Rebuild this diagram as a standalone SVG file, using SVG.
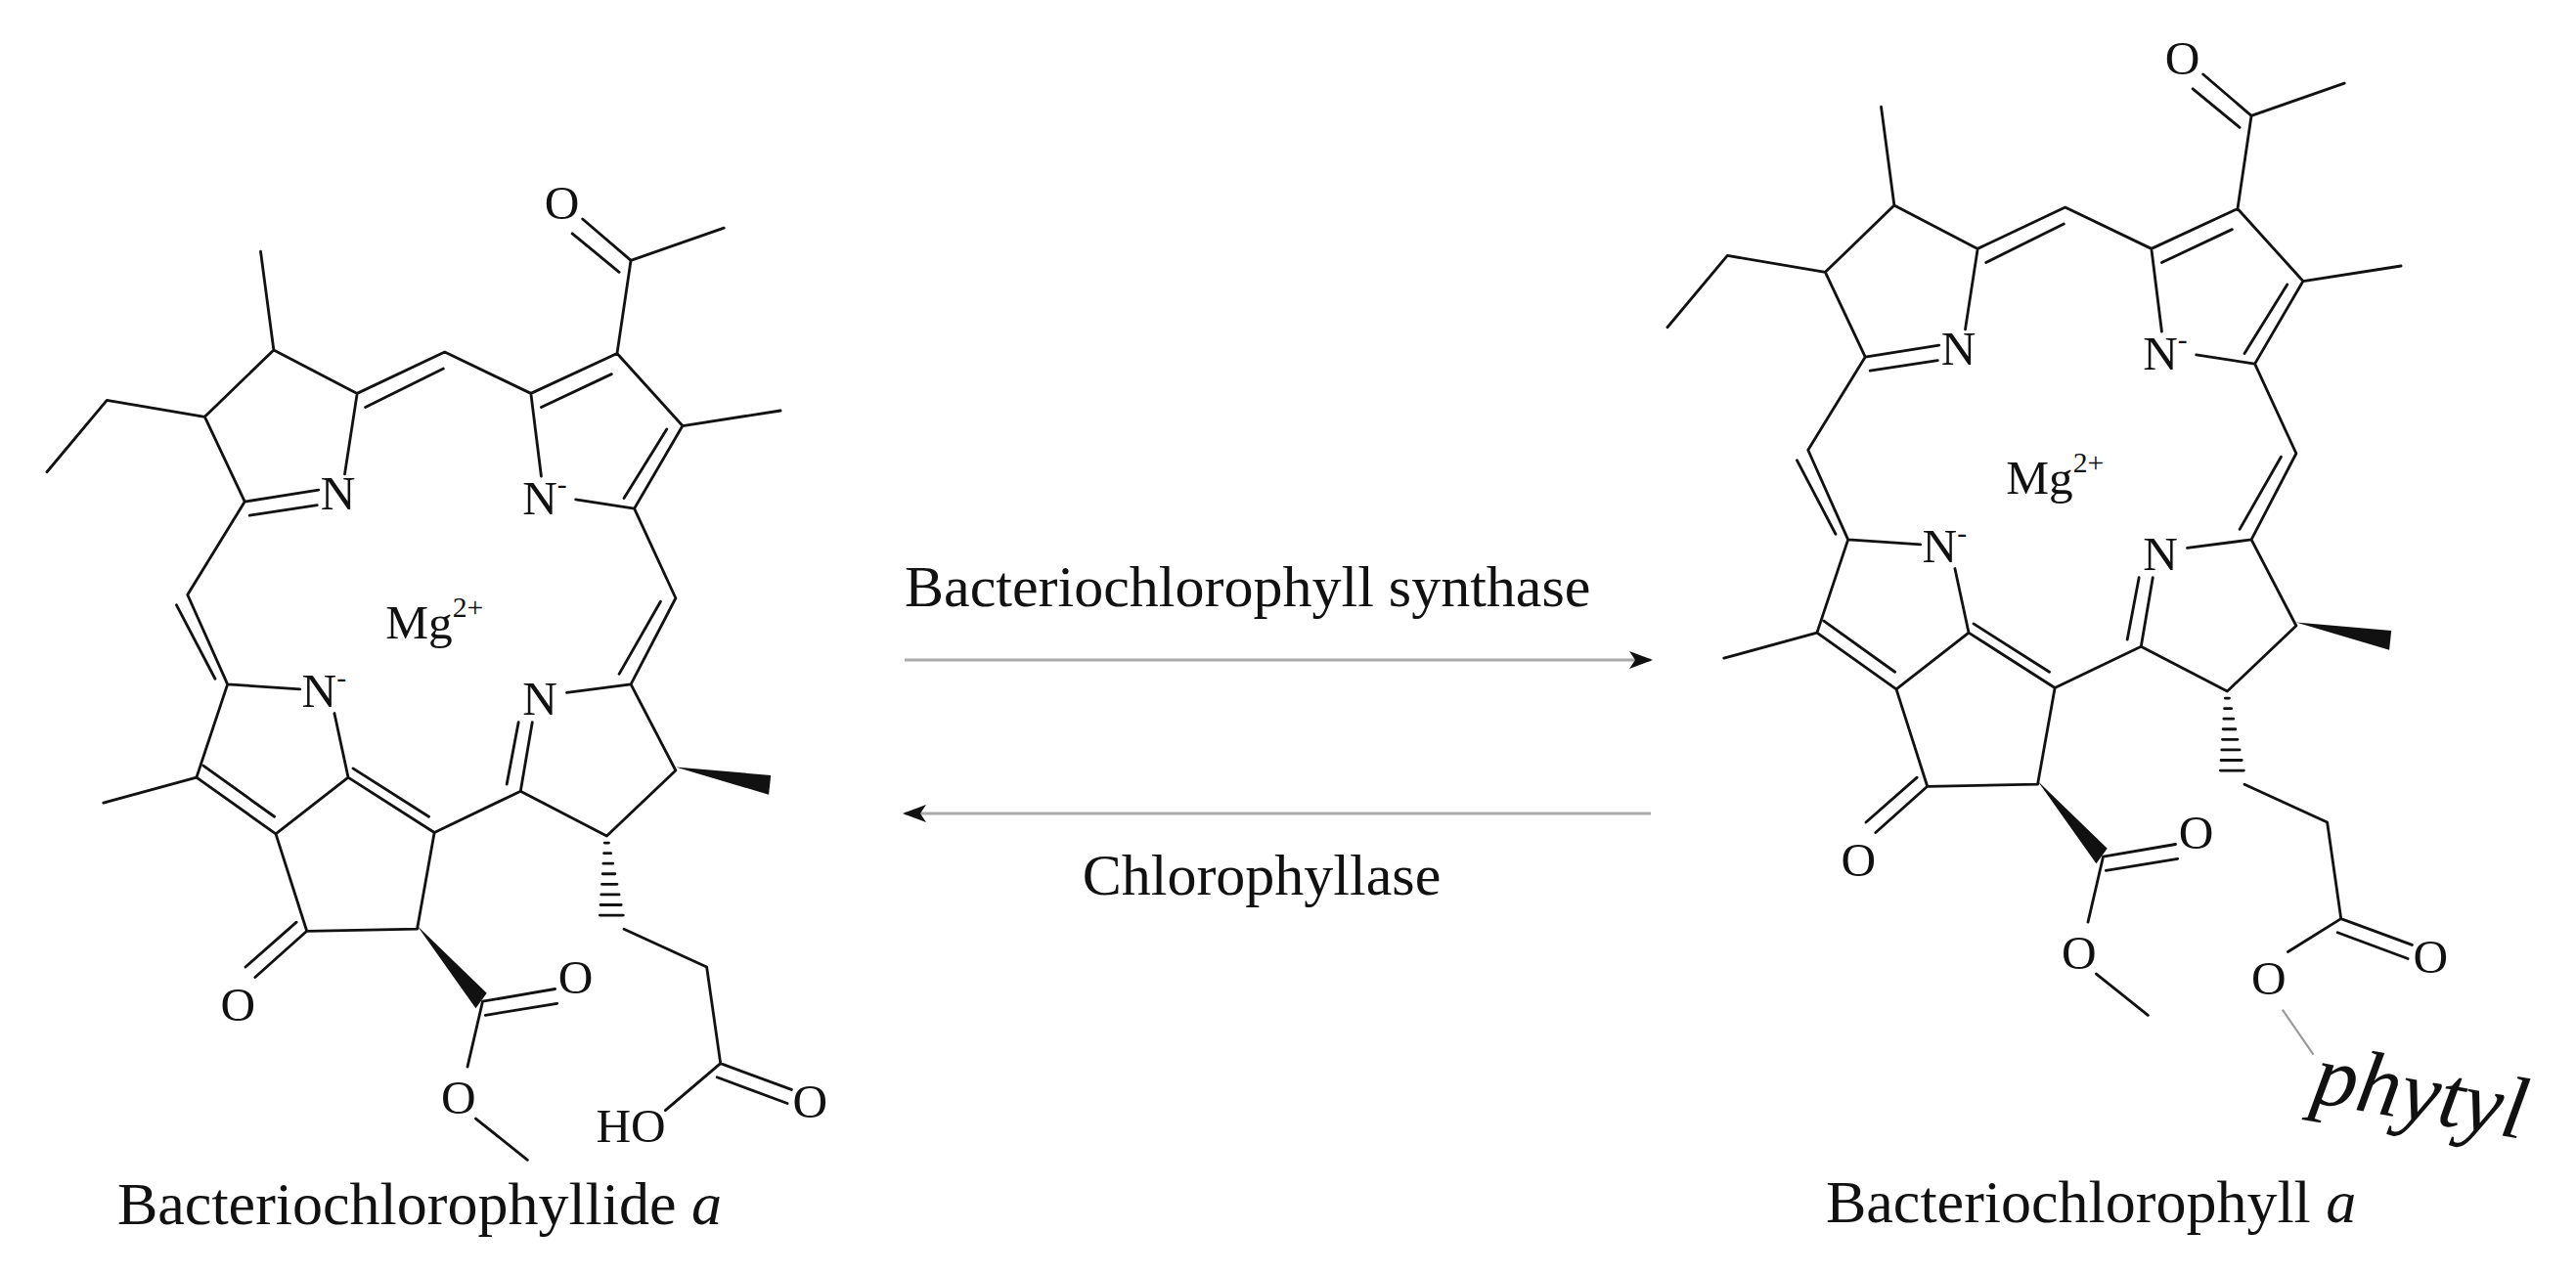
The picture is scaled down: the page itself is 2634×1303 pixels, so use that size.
<svg xmlns="http://www.w3.org/2000/svg" width="2634" height="1303" viewBox="0 0 2634 1303">
<style>
.b{stroke:#111;stroke-width:4;fill:none;stroke-linecap:round;stroke-linejoin:round}
.t{font-family:"Liberation Serif",serif;fill:#111}
.a{font-family:"Liberation Serif",serif;fill:#111;font-size:70px;text-anchor:middle;dominant-baseline:central}
.arr{stroke:#aaa;stroke-width:3}
</style>
<defs>
<marker id="h" viewBox="0 0 24 18" refX="22" refY="9" markerWidth="24" markerHeight="18" markerUnits="userSpaceOnUse" orient="auto"><path d="M0,0 L24,9 L0,18 L6,9 Z" fill="#111"/></marker>
<g id="core">
<path class="b" d="M397,295 L378,152 M397,295 L297,392 L155,368 L68,472 M297,392 L355,515 L462,498 M362,535 L460,520 M500,475 L518,358 L397,295 M518,358 L645,298 L770,358 M530,378 L643,322 M770,358 L895,300 M785,378 L887,330 M895,300 L915,165 L845,105 M898,182 L830,126 M915,165 L1050,118 M895,300 L990,405 L1132,383 M990,405 L920,525 M967,410 L905,510 M920,525 L835,512 M785,478 L770,358 M920,525 L980,655 L915,780 M958,660 L898,765 M915,780 L822,792 M915,780 L980,905 L880,1000 L755,935 L772,835 M735,925 L752,835 M755,935 L630,995 L505,915 M622,972 L512,902 M505,915 L485,822 M505,915 L400,997 L285,915 M398,972 L295,898 M285,915 L150,952 M285,915 L330,780 L272,650 L355,515 M312,772 L256,665 M330,780 L435,787 M400,997 L445,1138 L605,1135 L630,995 M445,1138 L370,1205 M430,1125 L356,1190 M700,1240 L805,1222 M704,1260 L808,1243 M700,1240 L678,1335 M690,1410 L765,1470 M905,1135 L1025,1190 L1045,1330 M1045,1330 L1148,1368 M1040,1350 L1142,1388"/>
<path d="M980,900 L1118,912 L1115,940 Z M605,1130 L706,1228 L690,1250 Z" fill="#111"/>
<path class="b" stroke-width="3" d="M877,1010 L883,1010 M876,1025 L886,1025 M875,1040 L889,1040 M874,1055 L892,1055 M873,1070 L895,1070 M872,1085 L898,1085 M871,1100 L901,1100 M870,1115 L904,1115"/>
<text class="a" x="490" y="503">N</text>
<text class="a" x="790" y="510">N<tspan font-size="42" dy="-20">-</tspan></text>
<text class="a" x="783" y="800">N</text>
<text class="a" x="470" y="790">N<tspan font-size="42" dy="-20">-</tspan></text>
<text class="a" x="630" y="690">Mg<tspan font-size="42" dy="-22">2+</tspan></text>
<text class="a" x="815" y="82">O</text>
<text class="a" x="345" y="1245">O</text>
<text class="a" x="835" y="1205">O</text>
<text class="a" x="665" y="1380">O</text>
<text class="a" x="1175" y="1385">O</text>
</g>
</defs>
<g id="bchlide">
<g transform="translate(0,150) scale(0.705)"><use href="#core"/><path class="b" d="M1045,1330 L965,1398"/><text class="a" x="915" y="1420">HO</text></g>
<text class="t" x="120" y="1252" font-size="62">Bacteriochlorophyllide <tspan font-style="italic">a</tspan></text>
</g>
<g id="bchl">
<g transform="translate(1657,2) scale(0.705)"><use href="#core"/><path class="b" d="M1045,1330 L968,1378"/><text class="a" x="940" y="1417">O</text><path d="M960,1462 L1005,1527" stroke="#999" stroke-width="3"/></g>
<text class="t" font-size="90" font-style="italic" transform="translate(2362,1127) rotate(10)">phytyl</text>
<text class="t" x="1867" y="1250" font-size="62">Bacteriochlorophyll <tspan font-style="italic">a</tspan></text>
</g>
<g id="connectors">
<line class="arr" x1="925" y1="675" x2="1688" y2="675" marker-end="url(#h)"/>
<line class="arr" x1="1688" y1="832" x2="925" y2="832" marker-end="url(#h)"/>
</g>
<text class="t" x="925" y="620" font-size="60">Bacteriochlorophyll synthase</text>
<text class="t" x="1290" y="915" font-size="60" text-anchor="middle">Chlorophyllase</text>
</svg>
